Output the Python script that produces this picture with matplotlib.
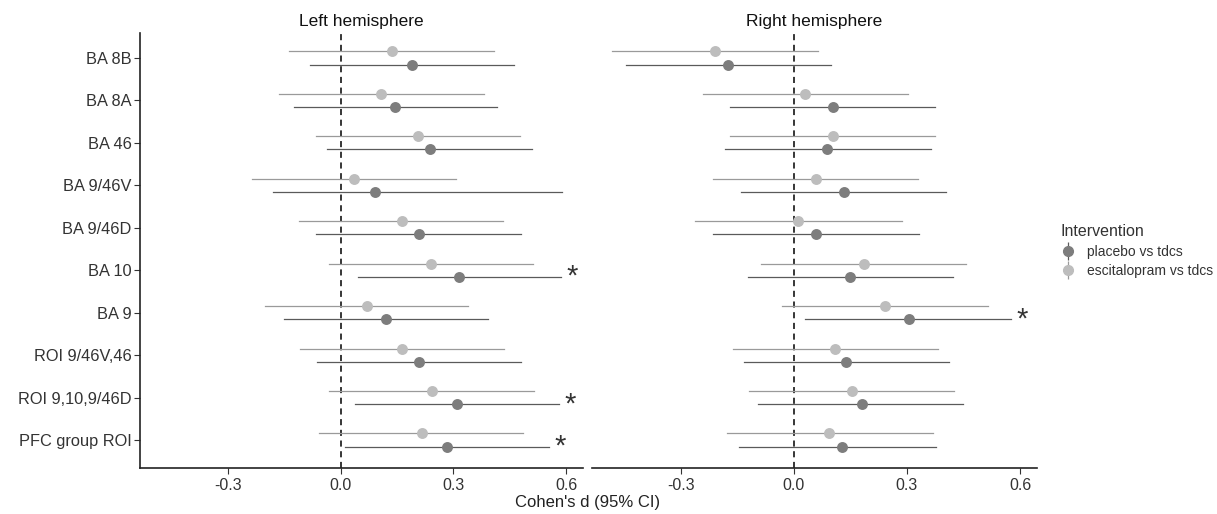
import matplotlib
matplotlib.use("Agg")
import matplotlib.pyplot as plt
from matplotlib.lines import Line2D
from matplotlib.legend_handler import HandlerTuple

plt.rcParams['font.family'] = ['Liberation Sans', 'DejaVu Sans']

regions = ["BA 8B", "BA 8A", "BA 46", "BA 9/46V", "BA 9/46D", "BA 10", "BA 9",
           "ROI 9/46V,46", "ROI 9,10,9/46D", "PFC group ROI"]

# Left hemisphere
left_esc_d  = [0.136, 0.108, 0.206, 0.035, 0.162, 0.241, 0.069, 0.163, 0.243, 0.215]
left_esc_lo = [-0.137, -0.164, -0.066, -0.237, -0.111, -0.032, -0.202, -0.109, -0.031, -0.058]
left_esc_hi = [0.407, 0.380, 0.477, 0.307, 0.433, 0.512, 0.340, 0.435, 0.515, 0.485]
left_pla_d  = [0.189, 0.145, 0.237, 0.092, 0.208, 0.316, 0.119, 0.207, 0.310, 0.284]
left_pla_lo = [-0.082, -0.126, -0.036, -0.180, -0.066, 0.046, -0.151, -0.064, 0.038, 0.012]
left_pla_hi = [0.462, 0.417, 0.508, 0.588, 0.479, 0.587, 0.393, 0.479, 0.581, 0.554]
left_sig = [False, False, False, False, False, True, False, False, True, True]

# Right hemisphere
right_esc_d  = [-0.208, 0.031, 0.104, 0.058, 0.012, 0.186, 0.241, 0.110, 0.155, 0.094]
right_esc_lo = [-0.482, -0.240, -0.170, -0.214, -0.261, -0.086, -0.030, -0.161, -0.119, -0.176]
right_esc_hi = [0.065, 0.303, 0.374, 0.330, 0.286, 0.458, 0.514, 0.383, 0.425, 0.370]
right_pla_d  = [-0.174, 0.104, 0.089, 0.134, 0.058, 0.150, 0.305, 0.138, 0.180, 0.127]
right_pla_lo = [-0.446, -0.170, -0.183, -0.141, -0.214, -0.121, 0.029, -0.133, -0.094, -0.145]
right_pla_hi = [0.098, 0.374, 0.363, 0.405, 0.333, 0.423, 0.576, 0.411, 0.449, 0.376]
right_sig = [False, False, False, False, False, False, True, False, False, False]

xticks = [-0.3, 0.0, 0.3, 0.6]
xticklabels = ["-0.3", "0.0", "0.3", "0.6"]

dark_pt, dark_ln = "#7d7d7d", "#5a5a5a"
light_pt, light_ln = "#bdbdbd", "#9a9a9a"

W, H = 1217, 514
fig = plt.figure(figsize=(W/100, H/100), dpi=100)
fig.patch.set_facecolor("white")

axL = fig.add_axes([140/W, (H-468)/H, (583-140)/W, (468-33)/H])
axR = fig.add_axes([592/W, (H-468)/H, (1037-592)/W, (468-33)/H])

dodge = 0.155
ypos = list(range(len(regions)))

def draw(ax, ed, elo, ehi, pd_, plo, phi, sig, title):
    for i in ypos:
        ax.plot([elo[i], ehi[i]], [i - dodge]*2, color=light_ln, lw=0.9, zorder=2)
        ax.plot([plo[i], phi[i]], [i + dodge]*2, color=dark_ln, lw=0.9, zorder=2)
    ax.scatter(ed, [i - dodge for i in ypos], s=62, color=light_pt, zorder=3, linewidths=0)
    ax.scatter(pd_, [i + dodge for i in ypos], s=62, color=dark_pt, zorder=3, linewidths=0)
    for i in ypos:
        if sig[i]:
            ax.text(phi[i] + 0.014, i + dodge, "*", fontsize=21, ha="left",
                    va="center", color="#333333")
    ax.axvline(0, color="black", ls=(0, (4, 3)), lw=1.1, zorder=1)
    ax.set_xlim(-0.535, 0.645)
    ax.set_ylim(9.66, -0.59)
    ax.set_xticks(xticks)
    ax.set_xticklabels(xticklabels, fontsize=11.5, color="#333333")
    ax.tick_params(axis="x", length=4, width=0.8, color="#333333", pad=3)
    ax.set_title(title, fontsize=12.5, color="#111111", pad=5)
    for s in ["top", "right"]:
        ax.spines[s].set_visible(False)
    ax.spines["bottom"].set_color("#222222")
    ax.spines["bottom"].set_linewidth(1.2)

draw(axL, left_esc_d, left_esc_lo, left_esc_hi, left_pla_d, left_pla_lo, left_pla_hi,
     left_sig, "Left hemisphere")
draw(axR, right_esc_d, right_esc_lo, right_esc_hi, right_pla_d, right_pla_lo, right_pla_hi,
     right_sig, "Right hemisphere")

axL.set_yticks(ypos)
axL.set_yticklabels(regions, fontsize=11.8, color="#333333")
axL.tick_params(axis="y", length=4, width=0.8, color="#333333", pad=2)
axL.spines["left"].set_color("#222222")
axL.spines["left"].set_linewidth(1.2)

axR.spines["left"].set_visible(False)
axR.set_yticks([])

fig.text(588/W, 1 - 503/H, "Cohen's d (95% CI)", ha="center", va="center",
         fontsize=12, color="#222222")

def handle(pt, ln):
    v = Line2D([], [], color=ln, marker="|", markersize=13, markeredgewidth=0.9, ls="none")
    p = Line2D([], [], color=pt, marker="o", markersize=7, ls="none")
    return (v, p)

leg = fig.legend([handle(dark_pt, dark_ln), handle(light_pt, light_ln)],
                 ["placebo vs tdcs", "escitalopram vs tdcs"],
                 handler_map={tuple: HandlerTuple(ndivide=1, pad=0)},
                 title="Intervention", loc="upper left",
                 bbox_to_anchor=(1061/W, 1 - 224/H), frameon=False,
                 fontsize=10, title_fontsize=11.5, handlelength=1.0,
                 handletextpad=0.9, labelspacing=0.4, borderaxespad=0,
                 borderpad=0)
leg._legend_box.align = "left"
leg.get_title().set_color("#333333")
for t in leg.get_texts():
    t.set_color("#333333")

fig.savefig("out.png", dpi=100, facecolor="white")
